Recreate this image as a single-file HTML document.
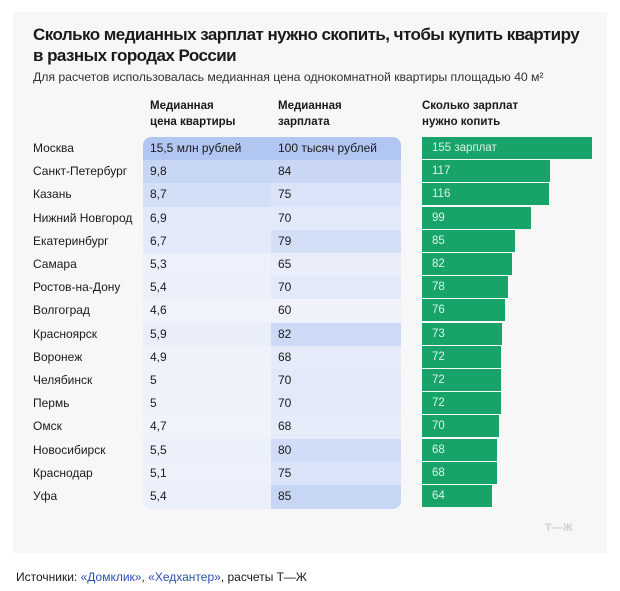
<!DOCTYPE html>
<html><head><meta charset="utf-8"><style>
body{margin:0;width:620px;height:591px;background:#fff;font-family:"Liberation Sans",sans-serif;color:#1a1a1a;position:relative;overflow:hidden}
.card{position:absolute;left:13px;top:12px;width:594px;height:541px;background:#f7f7f7}
.t{position:absolute;left:33px;top:24px;font-size:17px;font-weight:bold;line-height:21px;letter-spacing:-0.55px;width:585px;white-space:nowrap}
.s{position:absolute;left:33px;top:70px;font-size:12.3px;color:#333;letter-spacing:-0.05px}
.h{position:absolute;top:98px;font-size:11.5px;font-weight:bold;line-height:16px}
.r{position:absolute;font-size:12px;line-height:23px;height:23px}
.c{position:absolute;font-size:12px;line-height:23px}
.bar{position:absolute;left:422px;height:22px;background:#18a468;color:#d8f5e6;font-size:11.5px;line-height:22px;padding-left:10px;box-sizing:border-box}
.f{position:absolute;left:16px;top:570px;font-size:12px}
.f span{color:#2c4fb0}
.logo{position:absolute;left:545px;top:522px;font-size:11px;color:#cfcfcf;font-weight:bold}
</style></head><body>
<div class="card"></div>
<div class="t">Сколько медианных зарплат нужно скопить, чтобы купить квартиру<br>в разных городах России</div>
<div class="s">Для расчетов использовалась медианная цена однокомнатной квартиры площадью 40 м²</div>
<div class="h" style="left:150px">Медианная<br>цена квартиры</div>
<div class="h" style="left:278px">Медианная<br>зарплата</div>
<div class="h" style="left:422px">Сколько зарплат<br>нужно копить</div>
<div id="rows"></div>
<div class="logo">Т—Ж</div>
<div class="f">Источники: <span>«Домклик»</span>, <span>«Хедхантер»</span>, расчеты Т—Ж</div>
<script>
var d=[["Москва","15,5 млн рублей",15.5,"100 тысяч рублей",100,155],["Санкт-Петербург","9,8",9.8,"84",84,117],["Казань","8,7",8.7,"75",75,116],["Нижний Новгород","6,9",6.9,"70",70,99],["Екатеринбург","6,7",6.7,"79",79,85],["Самара","5,3",5.3,"65",65,82],["Ростов-на-Дону","5,4",5.4,"70",70,78],["Волгоград","4,6",4.6,"60",60,76],["Красноярск","5,9",5.9,"82",82,73],["Воронеж","4,9",4.9,"68",68,72],["Челябинск","5",5,"70",70,72],["Пермь","5",5,"70",70,72],["Омск","4,7",4.7,"68",68,70],["Новосибирск","5,5",5.5,"80",80,68],["Краснодар","5,1",5.1,"75",75,68],["Уфа","5,4",5.4,"85",85,64]];
function col(t){t=Math.max(0,Math.min(1,t));var a=[240,243,251],b=[178,198,242];return "rgb("+a.map((v,i)=>Math.round(v+(b[i]-v)*t)).join(",")+")";}
var h="",y=137,rh=23.2;
d.forEach(function(r,i){var top=y+i*rh;
var c1=r[2]>=15?1:Math.pow((r[2]-4.5)/6,1.3)*0.75, c2=r[4]>=100?1:Math.pow((r[4]-58)/30,1.3)*0.75;
var rad1=i==0?"border-top-left-radius:8px;":(i==15?"border-bottom-left-radius:8px;":"");
var rad2=i==0?"border-top-right-radius:8px;":(i==15?"border-bottom-right-radius:8px;":"");
h+='<div class="r" style="left:33px;top:'+top+'px">'+r[0]+'</div>';
h+='<div class="c" style="left:143px;top:'+top+'px;width:128px;height:'+(rh+0.3)+'px;padding-left:7px;box-sizing:border-box;background:'+col(c1)+';'+rad1+'">'+r[1]+'</div>';
h+='<div class="c" style="left:271px;top:'+top+'px;width:130px;height:'+(rh+0.3)+'px;padding-left:7px;box-sizing:border-box;background:'+col(c2)+';'+rad2+'">'+r[3]+'</div>';
h+='<div class="bar" style="top:'+top+'px;width:'+Math.round(r[5]*1.097)+'px">'+(i==0?"155 зарплат":r[5])+'</div>';});
document.getElementById("rows").innerHTML=h;
</script>
</body></html>
